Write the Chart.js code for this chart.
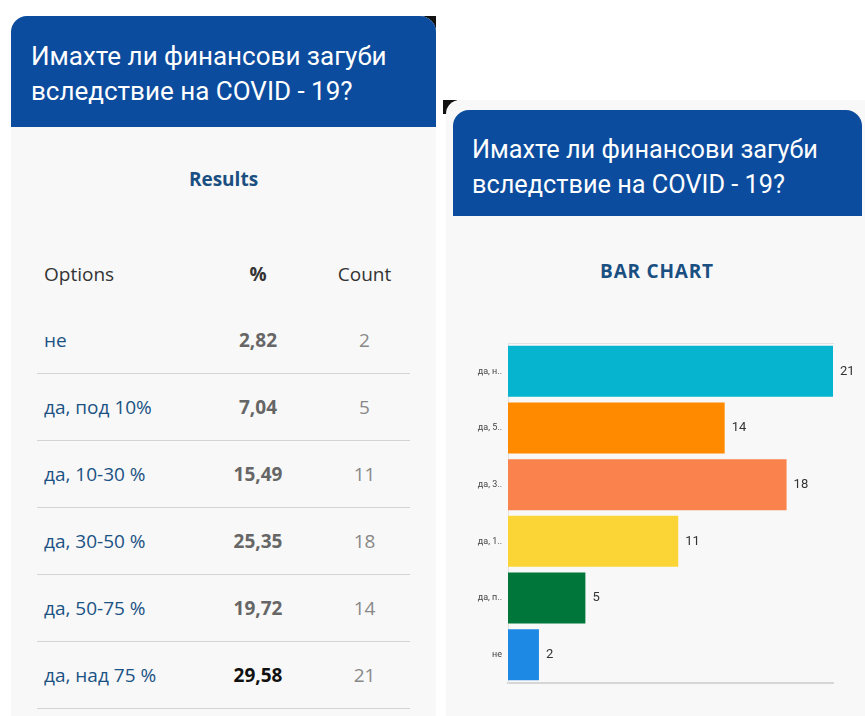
<!DOCTYPE html>
<html lang="bg">
<head>
  <meta charset="UTF-8" />
  <title>Имахте ли финансови загуби вследствие на COVID - 19?</title>
  <script src="https://cdn.jsdelivr.net/npm/chart.js"></script>
  <style>
    body {
      margin: 0;
      width: 865px;
      height: 716px;
      background: #fff;
      position: relative;
      overflow: hidden;
      font-family: 'Open Sans', sans-serif;
    }
    .corner {
      position: absolute;
      width: 14px;
      height: 14px;
      background: #111;
    }
    .panel {
      position: absolute;
      background: #f8f8f8;
    }
    .head {
      position: absolute;
      background: #0c4c9e;
      color: #fff;
      font-family: Roboto, sans-serif;
      line-height: 35px;
      border-radius: 16px 16px 0 0;
      box-sizing: border-box;
    }
    .sub {
      position: absolute;
      color: #1a4f82;
      font-weight: bold;
      text-align: center;
      font-family: 'Open Sans', sans-serif;
    }
    table {
      position: absolute;
      left: 37px;
      top: 241px;
      width: 373px;
      border-collapse: collapse;
      font-size: 19px;
    }
    td, th { height: 66px; padding: 0; }
    tbody tr { border-bottom: 1.5px solid #d4d4d4; }
    th { font-weight: normal; color: #333; }
    th.opt, td.opt { text-align: left; padding-left: 7px; }
    td.opt { color: #1b5284; }
    td.pct { text-align: center; font-weight: bold; color: #666; }
    td.pct.top { color: #111; }
    td.cnt, th.cnt { text-align: center; padding-left: 10px; color: #888; }
    th.cnt { color: #333; }
    th.pct { font-weight: bold; }
    #chartBox { position: absolute; left: 453px; top: 330px; }
  </style>
</head>
<body>
  <div class="corner" style="left:422px;top:16px"></div>
  <div class="panel" style="left:11px;top:16px;width:425px;height:700px;border-radius:16px 16px 0 0"></div>
  <div class="head" style="left:11px;top:16px;width:425px;height:111px;padding:23px 0 0 20px;font-size:26px">Имахте ли финансови загуби<br>вследствие на COVID - 19?</div>
  <div class="sub" style="left:11px;top:166px;width:425px;font-size:19px">Results</div>
  <table id="tbl"></table>

  <div class="corner" style="left:443px;top:100px"></div>
  <div class="panel" style="left:446px;top:100px;width:419px;height:616px;border-radius:14px 0 0 0"></div>
  <div class="head" style="left:453px;top:110px;width:409px;height:106px;padding:22px 0 0 19px;font-size:25.3px">Имахте ли финансови загуби<br>вследствие на COVID - 19?</div>
  <div class="sub" style="left:446px;top:258px;width:422px;font-size:19px;letter-spacing:0.8px">BAR CHART</div>
  <div id="chartBox"><canvas id="bars" width="412" height="370"></canvas></div>

  <script>
    // survey answers, in the order of the results table
    const options = ['не', 'да, под 10%', 'да, 10-30 %', 'да, 30-50 %', 'да, 50-75 %', 'да, над 75 %'];
    const percents = ['2,82', '7,04', '15,49', '25,35', '19,72', '29,58'];
    const counts = [2, 5, 11, 18, 14, 21];
    const colors = ['#1e88e5', '#00763a', '#fbd535', '#fa824c', '#ff8a00', '#06b4cf'];

    // table
    const tbl = document.getElementById('tbl');
    let html = '<thead><tr><th class="opt">Options</th><th class="pct">%</th><th class="cnt">Count</th></tr></thead><tbody>';
    options.forEach((o, i) => {
      const top = counts[i] === Math.max(...counts) ? ' top' : '';
      html += `<tr><td class="opt">${o}</td><td class="pct${top}">${percents[i]}</td><td class="cnt">${counts[i]}</td></tr>`;
    });
    tbl.innerHTML = html + '</tbody>';
    document.querySelector('th.opt').style.width = '163px';
    document.querySelector('th.pct').style.width = '102px';

    // chart shows the answers bottom-up
    const chartLabels = options.slice().reverse();
    const chartCounts = counts.slice().reverse();
    const chartColors = colors.slice().reverse();

    const valueLabels = {
      id: 'valueLabels',
      afterDatasetsDraw(chart) {
        const c = chart.ctx;
        c.save();
        c.font = '13px Roboto, sans-serif';
        c.fillStyle = '#333';
        c.textBaseline = 'middle';
        chart.getDatasetMeta(0).data.forEach((bar, i) => {
          c.fillText(chartCounts[i], bar.x + 7, bar.y);
        });
        c.restore();
      }
    };

    new Chart(document.getElementById('bars'), {
      type: 'bar',
      data: {
        labels: chartLabels,
        datasets: [{
          data: chartCounts,
          backgroundColor: chartColors,
          barPercentage: 0.9,
          categoryPercentage: 1
        }]
      },
      options: {
        indexAxis: 'y',
        responsive: false,
        animation: false,
        layout: { padding: { left: 0, top: 13, right: 32, bottom: 17 } },
        plugins: { legend: { display: false }, tooltip: { enabled: false } },
        scales: {
          x: {
            min: 0,
            max: Math.max(...counts),
            ticks: { display: false },
            grid: { display: false, drawTicks: false },
            border: { color: '#d6d6d6', width: 2 }
          },
          x2: {
            type: 'linear',
            position: 'top',
            display: true,
            min: 0,
            max: Math.max(...counts),
            ticks: { display: false },
            grid: { display: false, drawTicks: false },
            border: { color: '#e2e2e2', width: 1 }
          },
          y: {
            afterFit: s => { s.width = 55; },
            grid: { display: false, drawTicks: false },
            border: { color: '#e0e0e0', width: 1 },
            ticks: {
              padding: 6,
              color: '#444',
              font: { size: 9, family: 'Roboto' },
              callback(v) {
                const t = this.getLabelForValue(v);
                return t.length > 5 ? t.slice(0, 5) + '..' : t;
              }
            }
          }
        }
      },
      plugins: [valueLabels]
    });
  </script>
</body>
</html>
